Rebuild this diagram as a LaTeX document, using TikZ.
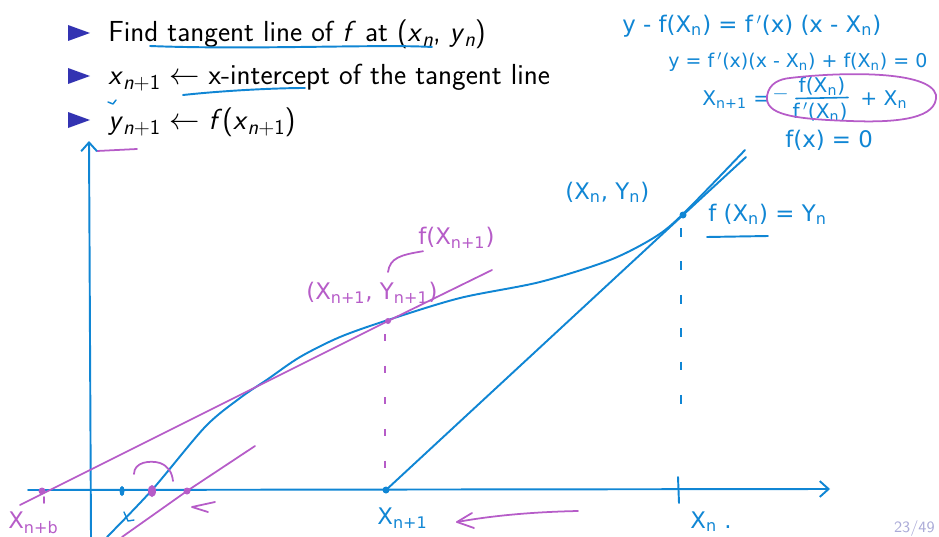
\documentclass[tikz,border=0pt]{standalone}
\usepackage{fontspec}
\newfontfamily\hand{DejaVu Sans}
\usetikzlibrary{arrows.meta}
\definecolor{pen}{RGB}{16,134,212}
\definecolor{vio}{RGB}{182,92,200}
\definecolor{bul}{RGB}{51,51,178}
\definecolor{pg}{RGB}{170,170,215}
\newcommand\sbs[1]{\raisebox{-0.35ex}{\fontsize{12}{12}\selectfont #1}}
\begin{document}
\begin{tikzpicture}[x=0.02cm,y=-0.02cm,
  bluepen/.style={draw=pen,line width=1.1pt,line cap=round,line join=round},
  viopen/.style={draw=vio,line width=1.0pt,line cap=round,line join=round},
  slide/.style={font=\fontsize{16.5}{19}\selectfont\sffamily,anchor=base west,inner sep=0pt},
  bhand/.style={font=\hand\fontsize{13}{15}\selectfont,text=pen,inner sep=0pt},
  eq/.style={font=\hand\fontsize{11.5}{13}\selectfont,text=pen,inner sep=0pt},
  vhand/.style={font=\hand\fontsize{13}{15}\selectfont,text=vio,inner sep=0pt},
  bullet/.style={fill=bul,draw=none}]
\useasboundingbox (0,0) rectangle (939,537);
% bullets
\fill[bullet] (68,25) -- (90,33) -- (68,41) -- cycle;
\fill[bullet] (68,68) -- (90,76) -- (68,84) -- cycle;
\fill[bullet] (68,112) -- (90,120) -- (68,128) -- cycle;
\node[slide] (l1) at (108,42) {Find tangent line of \textit{f} at (\textit{x}\sbs{\textit{n}}, \textit{y}\sbs{\textit{n}})};
\node[slide] (l2) at (108,85) {\textit{x}\sbs{\textit{n}+1} $\leftarrow$ x-intercept of the tangent line};
\node[slide] (l3) at (108,130) {\textit{y}\sbs{\textit{n}+1} $\leftarrow$ \textit{f}(\textit{x}\sbs{\textit{n}+1})};
% underline annotations
\draw[bluepen] (150,46) .. controls (250,50) and (380,44) .. (432,47);
\draw[bluepen] (183,95) .. controls (230,90) and (280,88) .. (305,88);
\draw[bluepen,line width=0.8pt] (108,102) -- (113,104) -- (116,100);
\draw[viopen] (97,151) -- (137,149);
% axes
\draw[bluepen,-{Straight Barb[length=5pt,width=9pt]}] (91,537) -- (89,141);
\draw[bluepen,-{Straight Barb[length=5pt,width=9pt]}] (28,490) -- (830,489);
\draw[bluepen] (678,477) -- (679,503);
% curve f
\draw[bluepen] plot[smooth,tension=0.5] coordinates {(107,537) (152,490) (205,427) (240,398) (268,379) (300,357) (340,337) (388,320) (460,298) (540,282) (610,260) (655,237) (683,214) (745,150)};
\draw[bluepen,line width=0.8pt] (124,512) -- (128,521) -- (134,520);
% blue tangent at (x_n,y_n)
\coordinate (xnp1) at (386,490);
\coordinate (Pn) at (683,215);
\coordinate (tb) at (746,157);
\draw[bluepen] (xnp1) -- (Pn) -- (tb);
\fill[pen] (Pn) circle (3.5);
\fill[pen] (xnp1) circle (3.5);
\draw[pen,line width=1pt,dash pattern=on 5pt off 14pt] (681,228) -- (681,410);
% purple tangent at (x_{n+1},y_{n+1})
\coordinate (ta) at (20,505);
\coordinate (Pn1) at (388,321);
\coordinate (tc) at (492,270);
\draw[viopen] (ta) -- (Pn1) -- (tc);
\fill[vio] (Pn1) circle (3);
\draw[vio,line width=1pt,dash pattern=on 4pt off 14pt] (385,334) -- (385,472);
\fill[vio] (42,491) circle (3.5);
\draw[viopen] (44,497) -- (44,503);
% second purple tangent
\draw[viopen] (122,537) -- (187,491) -- (255,446);
\fill[vio] (187,491) circle (3.5);
\fill[vio] (152,491) ellipse (4 and 6);
\fill[pen] (122,491) ellipse (2.5 and 5);
\draw[viopen] (134,474) .. controls (134,462) and (150,460) .. (160,463) .. controls (168,466) and (172,472) .. (173,481);
\draw[viopen] (215,502) -- (192,507) -- (208,512);
% big purple arrow
\draw[viopen] (578,511) .. controls (530,512) and (490,516) .. (457,522);
\draw[viopen] (472,513) -- (457,522) -- (474,528);
% labels on graph
\node[vhand,anchor=west] (xn2) at (8,523) {X\textsubscript{n+b}};
\node[bhand,anchor=west] (xn1) at (377,518) {X\textsubscript{n+1}};
\node[bhand,anchor=west] (xn) at (690,522) {X\textsubscript{n} .};
\node[vhand,anchor=west] (pn1) at (306,293) {(X\textsubscript{n+1}, Y\textsubscript{n+1})};
\node[vhand,anchor=west] (fn1) at (418,238) {f(X\textsubscript{n+1})};
\draw[viopen] (fn1.south west) ++(5,2) .. controls (400,255) and (390,258) .. (388,272);
\node[bhand,anchor=west] (pn) at (565,192) {(X\textsubscript{n}, Y\textsubscript{n})};
\node[bhand,anchor=west] (fxn) at (708,214) {f (X\textsubscript{n}) = Y\textsubscript{n}};
\draw[bluepen] (707,237) -- (768,236);
% equations top-right
\node[bhand,anchor=west] (e1) at (622,26) {y - f(X\textsubscript{n}) = f\,$'$(x) (x - X\textsubscript{n})};
\node[eq,anchor=west,font=\hand\fontsize{10.8}{13}\selectfont] (e2) at (668,62) {y = f\,$'$(x)(x - X\textsubscript{n}) + f(X\textsubscript{n}) = 0};
\node[eq,anchor=west] (e3) at (702,100) {X\textsubscript{n+1} =};
\node[eq,anchor=west] (mn) at (772,94) {$-$};
\node[eq] (num) at (822,86) {f(X\textsubscript{n})};
\node[eq] (den) at (820,112) {f\,$'$(X\textsubscript{n})};
\draw[bluepen,line width=0.9pt] (796,98.5) -- (848,97.5);
\node[eq,anchor=west] (plus) at (860,100) {+ X\textsubscript{n}};
\draw[viopen] (790,78) .. controls (840,72) and (930,70) .. (936,95) .. controls (938,118) and (900,123) .. (850,121) .. controls (790,119) and (765,114) .. (767,96) .. controls (769,83) and (780,79) .. (790,78);
\node[bhand,anchor=west] (e5) at (785,140) {f(x) = 0};
% page number
\node[font=\sffamily\fontsize{9}{10}\selectfont,text=pg,anchor=east,inner sep=0pt] (pgn) at (935,529) {23/49};
\end{tikzpicture}
\end{document}
